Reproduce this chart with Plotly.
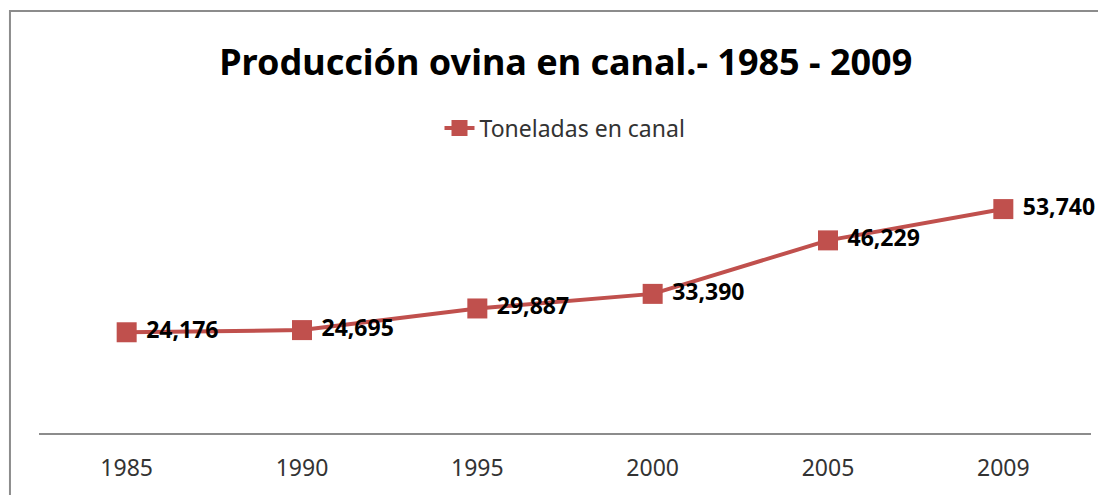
import plotly.graph_objects as go

years = ["1985", "1990", "1995", "2000", "2005", "2009"]
toneladas = [24176, 24695, 29887, 33390, 46229, 53740]
labels = ["24,176", "24,695", "29,887", "33,390", "46,229", "53,740"]

RED = "#c0504d"
FONT = "Noto Sans"

# page body has an 8px margin, so the figure is a bit smaller than the window
fig = go.Figure()
fig.add_trace(go.Scatter(
    x=years,
    y=toneladas,
    mode="lines+markers+text",
    name="Toneladas en canal",
    text=["\u00a0" + t for t in labels],
    textposition="middle right",
    textfont=dict(family=FONT, size=23, color="#000000", weight="bold"),
    line=dict(color=RED, width=4),
    marker=dict(symbol="square", size=20, color=RED),
    cliponaxis=False,
))

fig.update_layout(
    width=1098,
    height=487,
    margin=dict(l=31, r=15, t=175, b=62),
    paper_bgcolor="white",
    plot_bgcolor="white",
    font=dict(family=FONT, color="#222222"),
    title=dict(
        text="<b>Producción ovina en canal.- 1985 - 2009</b>",
        x=0.508, xanchor="center",
        y=0.889, yanchor="middle",
        font=dict(family=FONT, size=36, color="#000000"),
    ),
    showlegend=True,
    legend=dict(
        orientation="h",
        x=0.5, xanchor="center",
        y=1.22, yanchor="middle",
        font=dict(family=FONT, size=23, color="#333333"),
    ),
    xaxis=dict(
        type="category",
        range=[-0.5, 5.5],
        showline=True, linecolor="#8c8c8c", linewidth=1.5,
        showgrid=False, zeroline=False,
        ticks="outside", ticklen=14, tickcolor="rgba(0,0,0,0)",
        tickfont=dict(family=FONT, size=23, color="#333333"),
    ),
    yaxis=dict(
        range=[0, 60000],
        visible=False,
        showgrid=False, zeroline=False,
    ),
    shapes=[dict(
        type="rect", xref="paper", yref="paper",
        x0=-0.0276, x1=1.2, y0=-1.0, y1=1.688,
        line=dict(color="#8c8c8c", width=2),
        fillcolor="rgba(0,0,0,0)",
        layer="below",
    )],
)

fig.write_html("out.html")
